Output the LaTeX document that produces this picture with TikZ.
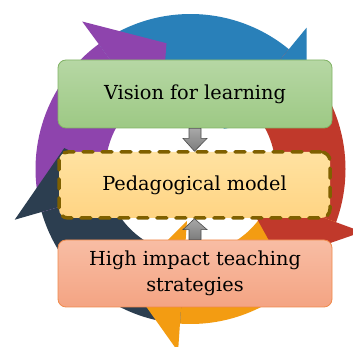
\documentclass[tikz,border=0pt]{standalone}
\usepackage{fontspec}
\setmainfont{DejaVu Serif}
\usetikzlibrary{calc}
\definecolor{cblue}{HTML}{2980B9}
\definecolor{cred}{HTML}{C0392B}
\definecolor{corange}{HTML}{F39C12}
\definecolor{cnavy}{HTML}{2C3E50}
\definecolor{cpurple}{HTML}{8E44AD}
\definecolor{gtop}{HTML}{B6D7A4}
\definecolor{gbot}{HTML}{9DC984}
\definecolor{gline}{HTML}{82B366}
\definecolor{ytop}{HTML}{FFE2A1}
\definecolor{ybot}{HTML}{FFD483}
\definecolor{yline}{HTML}{7F6000}
\definecolor{stop}{HTML}{F8BDA4}
\definecolor{sbot}{HTML}{F4A483}
\definecolor{sline}{HTML}{F08A4B}
\definecolor{atop}{HTML}{A8A8A8}
\definecolor{abot}{HTML}{7C7C7C}
\newcommand\Rin{85}
\newcommand\Rout{155}
\newcommand\Rbi{52}
\newcommand\Rbo{183}
\newcommand\Rtip{128}
\newcommand\Toff{25.5}
\newcommand\ringband[3]{%
  \fill[#1] ($(C)+(#2:\Rin)$) -- ($(C)+(#2:\Rout)$)
    arc[start angle=#2,end angle=#3,radius=\Rout]
    -- ($(C)+(#3:\Rin)$)
    arc[start angle=#3,end angle=#2,radius=\Rin] -- cycle;}
\newcommand\ringhead[2]{%
  \fill[#1] ($(C)+(#2:\Rbi)$) -- ($(C)+(#2:\Rbo)$)
    -- ($(C)+({#2-\Toff}:\Rtip)$) -- cycle;}
\tikzset{
  boxtext/.style={font=\fontsize{19.3}{26}\selectfont, text=black, align=center},
  greenbox/.style={boxtext, rounded corners=8pt, draw=gline, line width=0.8pt,
    top color=gtop, bottom color=gbot, minimum width=274pt, minimum height=68pt},
  yellowbox/.style={boxtext, rounded corners=9pt, draw=yline, line width=3.5pt,
    dash pattern=on 10pt off 9pt, line cap=round,
    top color=ytop, bottom color=ybot, minimum width=271pt, minimum height=66pt},
  salmonbox/.style={boxtext, rounded corners=8pt, draw=sline, line width=0.8pt,
    top color=stop, bottom color=sbot, minimum width=274pt, minimum height=67pt},
  blockarrow/.style={draw=black!70, line width=0.6pt, top color=atop, bottom color=abot}
}
\begin{document}
\begin{tikzpicture}[x=1pt,y=1pt]
\useasboundingbox (0,0) rectangle (353,347);
\fill[white] (0,0) rectangle (353,347);
\coordinate (C) at (190.5,178);
% bands
\ringband{cblue}{126.3}{50.6}
\ringband{cred}{50.6}{-20.1}
\ringband{corange}{-20.1}{-93.9}
\ringband{cnavy}{-93.9}{-163.9}
\ringband{cpurple}{196.1}{126.3}
% heads
\ringhead{cblue}{50.6}
\ringhead{cred}{-20.1}
\ringhead{corange}{-93.9}
\ringhead{cnavy}{196.1}
\ringhead{cpurple}{126.3}
% boxes
\node[greenbox] (vision) at (195,253) {Vision for learning};
\node[yellowbox] (model) at (194.5,162) {Pedagogical model};
\node[salmonbox] (strat) at (195,73.5) {High impact teaching\\strategies};
% block arrows
\draw[blockarrow] ($(vision.south)+(-6,0)$) -- ($(vision.south)+(6,0)$)
  -- ($(vision.south)+(6,-10)$) -- ($(vision.south)+(12,-10)$)
  -- ($(model.north)+(0,-1)$) -- ($(vision.south)+(-12,-10)$)
  -- ($(vision.south)+(-6,-10)$) -- cycle;
\draw[blockarrow] ($(strat.north)+(-6,0)$) -- ($(strat.north)+(6,0)$)
  -- ($(strat.north)+(6,10)$) -- ($(strat.north)+(12,10)$)
  -- ($(model.south)+(0,1)$) -- ($(strat.north)+(-12,10)$)
  -- ($(strat.north)+(-6,10)$) -- cycle;
\end{tikzpicture}
\end{document}
